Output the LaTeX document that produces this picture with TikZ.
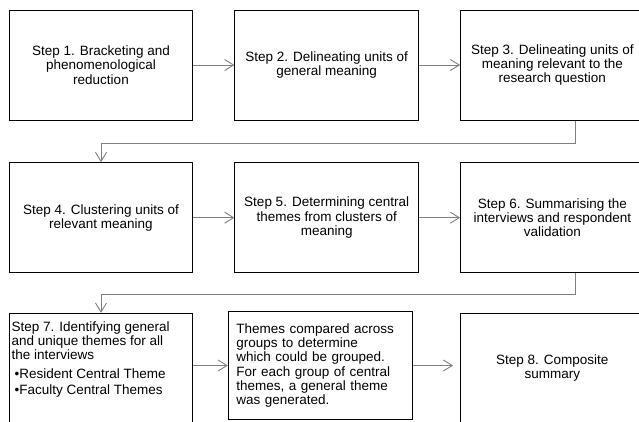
\documentclass[tikz,border=0pt]{standalone}
\usepackage{fontspec}
\setmainfont{Liberation Sans}
\usetikzlibrary{arrows.meta,calc}
\tikzset{
  stepbox/.style={draw=black,line width=1pt,minimum width=183.4pt,minimum height=110pt,inner sep=2pt,align=center,
    font=\fontsize{13.5}{14.3}\selectfont},
  conn/.style={draw=black!50,line width=0.9pt,-{Straight Barb[length=9pt,width=11pt,line width=0.9pt]}},
  plaintext/.style={inner sep=0pt,align=left,font=\fontsize{13.5}{14.3}\selectfont}
}
\begin{document}
\begin{tikzpicture}[x=1pt,y=-1pt]
\useasboundingbox (0,0) rectangle (639,421);
\clip (0,0) rectangle (639,421);
\fill[white] (0,0) rectangle (639,421);
% row 1
\node[stepbox] (b1) at (101,65) {Step 1. Bracketing and\\phenomenological\\reduction};
\node[stepbox] (b2) at (326.65,65) {Step 2. Delineating units of\\general meaning};
\node[stepbox] (b3) at (552.35,65) {Step 3. Delineating units of\\meaning relevant to the\\research question};
% row 2
\node[stepbox] (b4) at (101,217.7) {Step 4. Clustering units of\\relevant meaning};
\node[stepbox] (b5) at (326.65,217.7) {Step 5. Determining central\\themes from clusters of\\meaning};
\node[stepbox] (b6) at (552.35,217.7) {Step 6. Summarising the\\interviews and respondent\\validation};
% row 3
\node[stepbox] (b7) at (101,368.3) {};
\node[plaintext,anchor=north west] (b7t) at ($(b7.north west)+(2.6,8.3)$)
  {Step 7. Identifying general\\and unique themes for all\\the interviews\\[5pt]
   \hspace{3pt}\textbullet Resident Central Theme\\[1.4pt]
   \hspace{3pt}\textbullet Faculty Central Themes};
\node[stepbox,minimum width=184pt,minimum height=107.3pt,text width=168pt,inner xsep=8pt,align=left] (th) at (320.3,365.5)
  {Themes compared across\\groups to determine\\which could be grouped.\\For each group of central\\themes, a general theme\\was generated.};
\node[stepbox] (b8) at (552.35,368.3) {Step 8. Composite\\summary};
% connectors
\draw[conn] (b1) -- (b2);
\draw[conn] (b2) -- (b3);
\draw[conn] ($(b3.south west)!0.623!(b3.south east)$) -- ++(0,23.3) -| (b4.north);
\draw[conn] (b4) -- (b5);
\draw[conn] (b5) -- (b6);
\draw[conn] ($(b6.south west)!0.623!(b6.south east)$) -- ++(0,21.6) -| (b7.north);
\draw[conn] (th.west -| b7.east) -- (th.west);
\draw[conn,shorten >=7pt] (th.east) -- (th.east -| b8.west);
\end{tikzpicture}
\end{document}
